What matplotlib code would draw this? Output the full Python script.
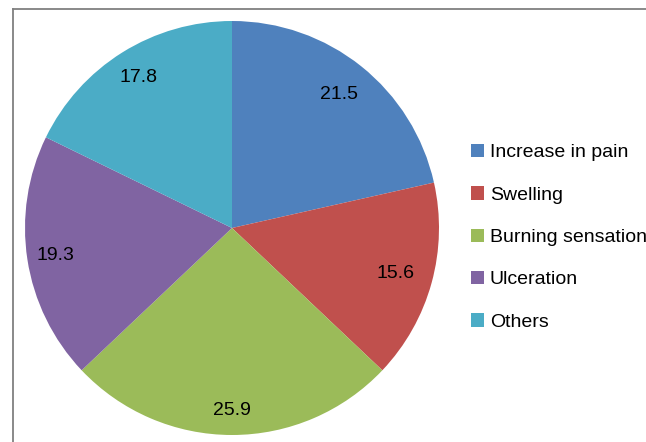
import matplotlib.pyplot as plt
import numpy as np
from matplotlib.lines import Line2D
from matplotlib.patches import Patch

categories = ["Increase in pain", "Swelling", "Burning sensation", "Ulceration", "Others"]
values = [21.5, 15.6, 25.9, 19.3, 17.8]
colors = ["#4F81BD", "#C0504D", "#9BBB59", "#8064A2", "#4BACC6"]
label_dist = [0.825, 0.82, 0.88, 0.865, 0.855]

plt.rcParams["font.family"] = ["Liberation Sans", "DejaVu Sans"]

W, H = 646, 442
fig = plt.figure(figsize=(W / 100, H / 100), dpi=100)

cx, cy, r = 232, 228, 207
ax = fig.add_axes([(cx - r) / W, (H - cy - r) / H, 2 * r / W, 2 * r / H])
wedges, _ = ax.pie(values, colors=colors, startangle=90, counterclock=False,
                   radius=1, wedgeprops=dict(linewidth=0))
ax.set_xlim(-1, 1)
ax.set_ylim(-1, 1)
ax.set_aspect("equal")

for w, v, d in zip(wedges, values, label_dist):
    ang = np.deg2rad((w.theta1 + w.theta2) / 2)
    ax.text(d * np.cos(ang), d * np.sin(ang), f"{v:.1f}", ha="center", va="center",
            fontsize=14, color="#000000")

handles = [Patch(facecolor=c, edgecolor="none") for c in colors]
fig.legend(handles, categories, loc="upper left", bbox_to_anchor=(471 / W, 1 - 144 / H),
           frameon=False, fontsize=14, labelspacing=1.28, handlelength=0.67,
           handleheight=0.67, handletextpad=0.3, borderpad=0, borderaxespad=0)

# partial chart frame (left and top edges)
fig.add_artist(Line2D([13 / W, 13 / W], [0, 1 - 9 / H], color="#808080", lw=1.3,
                      transform=fig.transFigure))
fig.add_artist(Line2D([13 / W, 1], [1 - 9 / H, 1 - 9 / H], color="#808080", lw=1.3,
                      transform=fig.transFigure))

fig.savefig("out.png", dpi=100)
